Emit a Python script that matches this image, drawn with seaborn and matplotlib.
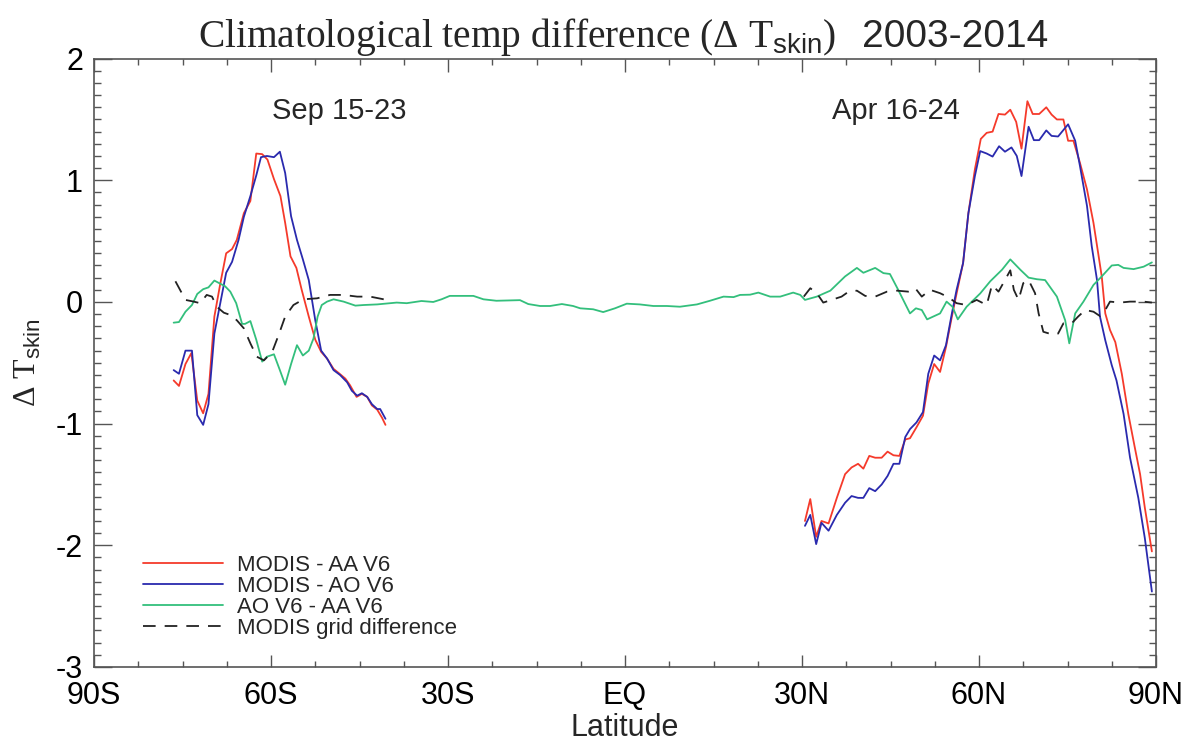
import matplotlib
matplotlib.use("Agg")
import matplotlib.pyplot as plt
from matplotlib.ticker import MultipleLocator
import pandas as pd
import seaborn as sns

# latitude in degrees (south negative), values in K
aa_sep_lat = [-76.5, -75.6, -74.5, -73.5, -72.5, -71.5, -70.6, -69.6, -68.6, -67.6,
              -66.6, -65.8, -64.6, -63.5, -62.5, -61.5, -60.6, -59.5, -58.4, -57.6,
              -56.7, -55.7, -54.8, -53.6, -52.5, -51.5, -50.5, -49.4, -48.5, -47.4,
              -46.6, -45.5, -44.6, -43.7, -42.9, -42.0, -41.2, -40.6]
aa_sep = [-0.645, -0.69, -0.51, -0.42, -0.81, -0.915, -0.755, -0.12, 0.15, 0.40,
          0.435, 0.51, 0.73, 0.83, 1.22, 1.215, 1.17, 1.01, 0.87, 0.65,
          0.375, 0.28, 0.10, -0.12, -0.31, -0.41, -0.465, -0.55, -0.585, -0.63,
          -0.685, -0.78, -0.755, -0.78, -0.85, -0.885, -0.95, -1.01]

ao_sep_lat = [-76.5, -75.6, -74.5, -73.4, -72.5, -71.5, -70.6, -69.6, -68.6, -67.6,
              -66.6, -65.5, -64.6, -63.5, -62.5, -61.7, -60.7, -59.5, -58.5, -57.6,
              -56.6, -55.6, -54.6, -53.6, -52.5, -51.5, -50.5, -49.4, -48.3, -47.1,
              -46.3, -45.4, -44.6, -43.7, -42.9, -42.0, -41.5, -40.6]
ao_sep = [-0.56, -0.59, -0.40, -0.40, -0.93, -1.01, -0.84, -0.26, -0.01, 0.24,
          0.33, 0.51, 0.70, 0.87, 1.04, 1.19, 1.20, 1.19, 1.235, 1.06,
          0.705, 0.51, 0.35, 0.18, -0.15, -0.40, -0.465, -0.56, -0.60, -0.66,
          -0.73, -0.77, -0.75, -0.78, -0.84, -0.88, -0.88, -0.96]

aa_apr_lat = [30.5, 31.4, 32.4, 33.3, 34.5, 35.9, 37.3, 38.4, 39.5, 40.4,
              41.4, 42.4, 43.5, 44.5, 45.5, 46.5, 47.5, 48.3, 49.4, 50.5,
              51.4, 52.4, 53.4, 54.4, 55.4, 56.2, 57.3, 58.2, 59.3, 60.3,
              61.3, 62.3, 63.3, 64.4, 65.3, 66.3, 67.2, 68.2, 69.1, 70.2,
              71.4, 72.3, 73.2, 74.3, 75.1, 76.0, 77.1, 78.3, 79.4, 80.2,
              80.8, 81.4, 82.2, 83.1, 84.2, 85.3, 86.4, 87.3, 88.1, 89.3]
aa_apr = [-1.80, -1.62, -1.93, -1.80, -1.82, -1.61, -1.415, -1.36, -1.33, -1.37,
          -1.265, -1.28, -1.28, -1.23, -1.26, -1.265, -1.13, -1.12, -1.03, -0.935,
          -0.67, -0.51, -0.575, -0.37, -0.12, 0.07, 0.32, 0.73, 1.09, 1.34,
          1.39, 1.40, 1.545, 1.54, 1.58, 1.48, 1.26, 1.65, 1.545, 1.545,
          1.60, 1.54, 1.50, 1.50, 1.325, 1.325, 1.145, 0.925, 0.65, 0.40,
          0.21, -0.094, -0.23, -0.33, -0.59, -0.92, -1.195, -1.415, -1.69, -2.05]

ao_apr_lat = [30.5, 31.4, 32.4, 33.3, 34.5, 35.9, 37.3, 38.4, 39.5, 40.4,
              41.4, 42.4, 43.5, 44.5, 45.5, 46.5, 47.5, 48.3, 49.4, 50.5,
              51.4, 52.4, 53.4, 54.4, 55.4, 56.2, 57.3, 58.2, 59.3, 60.2,
              61.3, 62.3, 63.4, 64.4, 65.5, 66.4, 67.2, 68.4, 69.3, 70.2,
              71.4, 72.3, 73.4, 75.1, 76.3, 77.1, 78.3, 79.1, 80.0, 80.5,
              81.4, 82.5, 83.3, 84.5, 85.6, 87.0, 88.1, 89.3]
ao_apr = [-1.84, -1.75, -1.99, -1.815, -1.88, -1.75, -1.65, -1.595, -1.61, -1.61,
          -1.53, -1.555, -1.50, -1.43, -1.33, -1.33, -1.11, -1.045, -0.99, -0.905,
          -0.59, -0.44, -0.48, -0.355, -0.094, 0.10, 0.32, 0.73, 1.035, 1.24,
          1.22, 1.195, 1.28, 1.235, 1.27, 1.20, 1.035, 1.44, 1.33, 1.33,
          1.41, 1.365, 1.36, 1.46, 1.325, 1.12, 0.79, 0.46, 0.18, -0.12,
          -0.315, -0.52, -0.645, -0.92, -1.28, -1.61, -1.94, -2.38]

ao_aa_lat = [-76.5, -75.6, -74.5, -73.4, -72.5, -71.5, -70.6, -69.6, -68.6, -67.8,
             -66.9, -65.9, -64.9, -64.4, -63.5, -62.5, -61.5, -60.7, -59.5, -58.5,
             -57.6, -56.6, -55.6, -54.6, -53.6, -52.8, -52.1, -51.4, -50.5, -49.4,
             -47.7, -45.7, -44.3, -42.0, -38.7, -37.0, -34.5, -32.5, -31.1, -29.7,
             -25.7, -24.0, -21.8, -17.8, -16.4, -14.4, -12.7, -10.7, -8.8, -7.6,
             -5.4, -3.7, -1.7, 0.3, 2.5, 4.8, 7.1, 9.3, 12.2, 14.4,
             16.7, 18.4, 19.5, 21.2, 22.6, 24.6, 26.3, 28.5, 29.7, 30.5,
             32.5, 34.8, 37.3, 39.3, 40.4, 42.4, 43.8, 44.9, 46.3, 48.3,
             49.3, 50.3, 51.2, 53.4, 54.5, 55.5, 56.4, 57.9, 60.2, 61.9,
             63.9, 65.3, 67.0, 68.4, 69.8, 71.2, 73.2, 74.6, 75.3, 76.3,
             77.7, 79.4, 80.8, 82.5, 83.6, 84.5, 86.2, 87.9, 89.3]
ao_aa = [-0.17, -0.165, -0.08, -0.025, 0.066, 0.105, 0.12, 0.176, 0.15, 0.13,
         0.085, -0.01, -0.18, -0.18, -0.157, -0.31, -0.49, -0.45, -0.43, -0.56,
         -0.68, -0.51, -0.355, -0.44, -0.40, -0.30, -0.12, -0.025, 0.003, 0.022,
         0.003, -0.03, -0.025, -0.02, -0.005, -0.01, 0.008, 0.0, 0.022, 0.05,
         0.05, 0.022, 0.01, 0.015, -0.017, -0.033, -0.033, -0.017, -0.033, -0.052,
         -0.06, -0.083, -0.052, -0.014, -0.02, -0.033, -0.033, -0.039, -0.02, 0.01,
         0.044, 0.04, 0.058, 0.06, 0.077, 0.044, 0.044, 0.077, 0.058, 0.017,
         0.044, 0.093, 0.21, 0.28, 0.24, 0.28, 0.237, 0.23, 0.10, -0.094,
         -0.052, -0.066, -0.143, -0.094, 0.003, -0.039, -0.143, -0.039, 0.07, 0.17,
         0.265, 0.35, 0.265, 0.20, 0.187, 0.18, 0.044, -0.15, -0.34, -0.094,
         0.003, 0.14, 0.21, 0.30, 0.305, 0.28, 0.27, 0.29, 0.325]

grid_sep_lat = [-76.2, -74.5, -73.1, -72.0, -70.9, -70.0, -69.2, -68.0, -66.9, -65.8,
                -64.6, -63.5, -62.4, -61.2, -59.8, -58.7, -57.6, -56.2, -54.5, -52.2,
                -50.0, -47.7, -45.4, -43.2, -40.9]
grid_sep = [0.17, 0.017, 0.003, -0.01, 0.058, 0.044, -0.039, -0.088, -0.107, -0.15,
            -0.217, -0.34, -0.45, -0.48, -0.41, -0.27, -0.12, -0.025, 0.022, 0.03,
            0.058, 0.058, 0.044, 0.044, 0.022]

grid_apr_lat = [30.3, 31.4, 32.5, 33.6, 35.0, 36.7, 37.9, 39.3, 40.7, 42.4,
                44.4, 46.1, 48.0, 49.2, 50.3, 51.7, 53.4, 54.8, 56.2, 57.9,
                59.6, 61.3, 62.2, 63.3, 64.4, 65.3, 65.9, 66.7, 67.5, 68.4,
                69.5, 70.1, 70.9, 72.6, 73.4, 74.3, 75.7, 76.8, 78.0, 79.4,
                80.5, 81.4, 82.2, 83.9, 85.6, 87.9, 89.3]
grid_apr = [0.044, 0.113, 0.072, -0.005, 0.017, 0.044, 0.085, 0.093, 0.05, 0.044,
            0.085, 0.093, 0.085, 0.113, 0.044, 0.10, 0.072, 0.039, -0.01, -0.025,
            0.017, -0.025, 0.14, 0.085, 0.18, 0.26, 0.10, 0.017, 0.155, 0.18,
            0.072, -0.094, -0.245, -0.27, -0.26, -0.176, -0.176, -0.12, -0.066, -0.08,
            -0.116, -0.066, 0.003, -0.005, 0.003, 0.003, -0.005]

lat_ticks = [-90, -60, -30, 0, 30, 60, 90]
lat_labels = ["90S", "60S", "30S", "EQ", "30N", "60N", "90N"]

RED = "#f53a2b"
BLUE = "#2a2aae"
GREEN = "#33bf7c"
GREY = "#555555"

sns.set_style("ticks")
plt.rcParams["font.family"] = ["Liberation Sans", "DejaVu Sans"]
plt.rcParams["mathtext.fontset"] = "custom"
plt.rcParams["mathtext.rm"] = "Liberation Sans"


def draw(ax, lat, val, color, label, **kw):
    df = pd.DataFrame({"lat": lat, "val": val})
    sns.lineplot(data=df, x="lat", y="val", color=color, lw=1.3, label=label,
                 estimator=None, sort=False, ax=ax, **kw)


fig = plt.figure(figsize=(11.87, 7.44), dpi=100)
ax = fig.add_axes([0.0792, 0.1035, 0.8947, 0.8177])

dash = dict(linestyle=(0, (7.0, 5.0)))
draw(ax, aa_sep_lat, aa_sep, RED, "MODIS - AA V6")
draw(ax, aa_apr_lat, aa_apr, RED, "_nolegend_")
draw(ax, ao_sep_lat, ao_sep, BLUE, "MODIS - AO V6")
draw(ax, ao_apr_lat, ao_apr, BLUE, "_nolegend_")
draw(ax, ao_aa_lat, ao_aa, GREEN, "AO V6 - AA V6")
draw(ax, grid_sep_lat, grid_sep, "#222222", "MODIS grid difference", **dash)
draw(ax, grid_apr_lat, grid_apr, "#222222", "_nolegend_", **dash)

ax.set_xlim(-90, 90)
ax.set_ylim(-3, 2)
ax.set_xticks(lat_ticks)
ax.set_xticklabels(lat_labels)
ax.set_yticks([-3, -2, -1, 0, 1, 2])
ax.set_yticklabels(["-3", "-2", "-1", "0", "1", "2"])
ax.xaxis.set_minor_locator(MultipleLocator(7.5))
ax.yaxis.set_minor_locator(MultipleLocator(0.1))
ax.tick_params(axis="both", which="both", direction="in", top=True, right=True,
               color=GREY, width=1.0, labelsize=22, labelcolor="black")
ax.tick_params(axis="x", which="major", length=9, pad=10)
ax.tick_params(axis="x", which="minor", length=4.5)
ax.tick_params(axis="y", which="major", length=13, pad=8)
ax.tick_params(axis="y", which="minor", length=5)
for sp in ax.spines.values():
    sp.set_color(GREY)
    sp.set_linewidth(1.2)

ax.set_xlabel("Latitude", fontsize=22, va="center")
ax.xaxis.set_label_coords(0.5, -0.1)
ax.set_ylabel(r"Δ T$_{\mathrm{skin}}$", fontsize=23, family="Liberation Serif", va="center")
ax.yaxis.set_label_coords(-0.062, 0.5)

ax.text(0.2307, 0.901, "Sep 15-23", transform=ax.transAxes, ha="center", va="baseline", fontsize=21)
ax.text(0.755, 0.901, "Apr 16-24", transform=ax.transAxes, ha="center", va="baseline", fontsize=21)

ax.legend(loc="upper left", bbox_to_anchor=(0.046, 0.184), frameon=False, fontsize=16,
          handlelength=3.6, handletextpad=0.62, labelspacing=0.0, borderpad=0,
          borderaxespad=0)

fig.text(198 / 1187, 1 - 46.7 / 744, r"Climatological temp difference (Δ T$_{\mathrm{skin}}$)",
         family="Liberation Serif", fontsize=28.4, ha="left", va="baseline")
fig.text(862 / 1187, 1 - 46.7 / 744, "2003-2014", fontsize=28, ha="left", va="baseline")

fig.savefig("out.png", dpi=100)
